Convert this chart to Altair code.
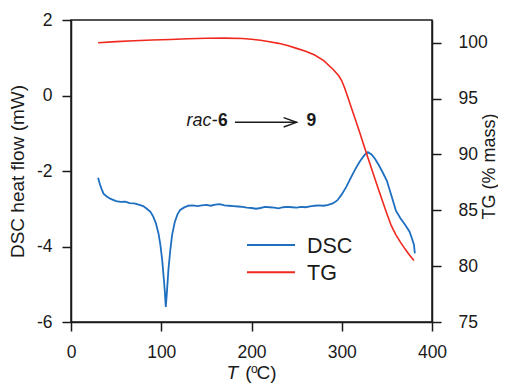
import altair as alt
import pandas as pd

# ---- data ----
T_DSC = [30, 32, 34, 36, 40, 44, 50, 55, 60, 65, 70, 75, 80, 84, 88, 91, 94, 97, 99,
         101, 103, 104, 105, 106, 107, 108, 110, 112, 115, 118, 121, 125, 130, 135,
         140, 145, 150, 155, 160, 165, 170, 175, 180, 185, 190, 195, 200, 205, 210,
         215, 220, 225, 230, 235, 240, 245, 250, 255, 260, 265, 270, 275, 280, 285,
         290, 295, 300, 305, 310, 315, 320, 325, 329, 333, 337, 341, 345, 350, 355,
         360, 365, 370, 375, 378, 380, 381]
DSC = [-2.18, -2.35, -2.48, -2.60, -2.68, -2.74, -2.80, -2.82, -2.81, -2.85, -2.86,
       -2.89, -2.93, -3.00, -3.08, -3.20, -3.38, -3.66, -3.95, -4.35, -4.90, -5.20,
       -5.60, -5.30, -4.95, -4.60, -4.10, -3.70, -3.35, -3.15, -3.03, -2.97, -2.92,
       -2.91, -2.93, -2.91, -2.90, -2.92, -2.89, -2.88, -2.91, -2.92, -2.93, -2.94,
       -2.95, -2.97, -2.98, -3.00, -2.98, -2.95, -2.96, -2.97, -2.99, -2.96, -2.95,
       -2.96, -2.97, -2.95, -2.96, -2.94, -2.92, -2.91, -2.92, -2.90, -2.86, -2.78,
       -2.62, -2.42, -2.18, -1.95, -1.75, -1.58, -1.50, -1.56, -1.68, -1.84, -2.02,
       -2.26, -2.65, -3.05, -3.25, -3.42, -3.60, -3.80, -3.95, -4.18]

T_TG = [30, 50, 70, 90, 110, 130, 150, 170, 190, 200, 210, 220, 230, 240, 250, 260,
        270, 280, 290, 295, 297, 300, 303, 306, 310, 315, 320, 325, 330, 335, 340,
        345, 350, 355, 360, 365, 370, 375, 380]
TG = [100.00, 100.10, 100.18, 100.25, 100.30, 100.36, 100.40, 100.42, 100.38, 100.32,
      100.22, 100.10, 99.95, 99.75, 99.50, 99.25, 98.90, 98.40, 97.65, 97.20, 97.00,
      96.60, 96.00, 95.30, 94.35, 93.15, 91.95, 90.70, 89.45, 88.25, 87.05, 85.85,
      84.70, 83.60, 82.80, 82.15, 81.55, 81.00, 80.50]

SERIES = ["DSC", "TG"]
COLORS = ["#1f6fc1", "#f0281e"]
X_TICKS = [0, 100, 200, 300, 400]
DSC_TICKS = [-6, -4, -2, 0, 2]
TG_TICKS = [75, 80, 85, 90, 95, 100]
X_DOMAIN = [0, 400]
DSC_DOMAIN = [-6, 2]
TG_DOMAIN = [75, 102.04]

# annotation "rac-6 --> 9" in data coordinates
ANN_Y = -0.81
ARROW_Y = -0.71
ARROW_T = [181.6, 250.0]
LABEL_6_T = 162.8
LABEL_9_T = 261.0

FONT = "Liberation Sans"
INK = "#1a1a1a"
W, H = 361, 302

dsc_df = pd.DataFrame({"T": T_DSC, "value": DSC, "series": "DSC"})
tg_df = pd.DataFrame({"T": T_TG, "value": TG, "series": "TG"})
arrow_df = pd.DataFrame({"T": [ARROW_T[0]], "T2": [ARROW_T[1]], "v": [ARROW_Y]})
rac_df = pd.DataFrame({"T": [LABEL_6_T], "v": [ANN_Y], "t": ["rac-"]})
six_df = pd.DataFrame({"T": [LABEL_6_T], "v": [ANN_Y], "t": ["6"]})
nine_df = pd.DataFrame({"T": [LABEL_9_T], "v": [ANN_Y], "t": ["9"]})
one_df = pd.DataFrame({"k": [0]})
leg_dsc_df = pd.DataFrame({"series": ["DSC"]})
leg_tg_df = pd.DataFrame({"series": ["TG"]})

xs = alt.Scale(domain=X_DOMAIN, nice=False, zero=False)
ys_dsc = alt.Scale(domain=DSC_DOMAIN, nice=False, zero=False)
ys_tg = alt.Scale(domain=TG_DOMAIN, nice=False, zero=False)
cscale = alt.Scale(domain=SERIES, range=COLORS)
LABEL_EXPR = "'' + datum.value"

x_enc = alt.X("T:Q", scale=xs,
              axis=alt.Axis(values=X_TICKS, title=None, labelPadding=12,
                            labelFlush=False, labelExpr=LABEL_EXPR))
color_enc = alt.Color("series:N", scale=cscale, legend=None)

dsc_line = alt.Chart(dsc_df).mark_line(strokeWidth=1.8).encode(
    x=x_enc,
    y=alt.Y("value:Q", scale=ys_dsc,
            axis=alt.Axis(values=DSC_TICKS, orient="left", title="DSC heat flow (mW)",
                          labelPadding=10, labelExpr=LABEL_EXPR,
                          titleX=-48, titleY=151, titleAngle=270,
                          titleAlign="center", titleBaseline="alphabetic")),
    color=color_enc,
)

xa = alt.X("T:Q", scale=xs)
ya = alt.Y("v:Q", scale=ys_dsc)

arrow_line = alt.Chart(arrow_df).mark_rule(color=INK, strokeWidth=1.4).encode(
    x=xa, x2="T2:Q", y=ya)
arrow_head = alt.Chart(arrow_df).mark_point(
    shape="M-1,-0.36L0,0L-1,0.36", filled=False, color=INK, strokeWidth=1.4,
    size=676, opacity=1).encode(x=alt.X("T2:Q", scale=xs), y=ya)
rac_text = alt.Chart(rac_df).mark_text(
    align="right", baseline="alphabetic", font=FONT, fontSize=18, fontStyle="italic",
    color=INK, dx=-0.5).encode(x=xa, y=ya, text="t:N")
six_text = alt.Chart(six_df).mark_text(
    align="left", baseline="alphabetic", font=FONT, fontSize=17.5, fontWeight="bold",
    color=INK).encode(x=xa, y=ya, text="t:N")
nine_text = alt.Chart(nine_df).mark_text(
    align="left", baseline="alphabetic", font=FONT, fontSize=17.5, fontWeight="bold",
    color=INK).encode(x=xa, y=ya, text="t:N")

# x axis title "T (°C)"
TITLE_Y = 359
t_it = alt.Chart(one_df).mark_text(
    align="left", baseline="alphabetic", font=FONT, fontSize=19, fontStyle="italic",
    color=INK, dx=-25).encode(x=alt.value(W / 2), y=alt.value(TITLE_Y), text=alt.value("T"))
t_par = alt.Chart(one_df).mark_text(
    align="left", baseline="alphabetic", font=FONT, fontSize=19, color=INK,
    dx=-6.3).encode(x=alt.value(W / 2), y=alt.value(TITLE_Y), text=alt.value("("))
t_deg = alt.Chart(one_df).mark_text(
    align="left", baseline="alphabetic", font=FONT, fontSize=12, color=INK,
    dx=-0.6).encode(x=alt.value(W / 2), y=alt.value(TITLE_Y - 6.5), text=alt.value("o"))
t_c = alt.Chart(one_df).mark_text(
    align="left", baseline="alphabetic", font=FONT, fontSize=19, color=INK,
    dx=5).encode(x=alt.value(W / 2), y=alt.value(TITLE_Y), text=alt.value("C)"))

# legend (line swatches + labels), colours from the shared colour scale
LEG_X1, LEG_X2, LEG_TX = 176, 224, 236
leg_dsc_line = alt.Chart(leg_dsc_df).mark_rule(strokeWidth=2).encode(
    x=alt.value(LEG_X1), x2=alt.value(LEG_X2), y=alt.value(225), color=color_enc)
leg_tg_line = alt.Chart(leg_tg_df).mark_rule(strokeWidth=2).encode(
    x=alt.value(LEG_X1), x2=alt.value(LEG_X2), y=alt.value(252.3), color=color_enc)
leg_dsc_text = alt.Chart(leg_dsc_df).mark_text(
    align="left", baseline="alphabetic", font=FONT, fontSize=21.5, color=INK).encode(
    x=alt.value(LEG_TX), y=alt.value(232.7), text="series:N")
leg_tg_text = alt.Chart(leg_tg_df).mark_text(
    align="left", baseline="alphabetic", font=FONT, fontSize=21.5, color=INK).encode(
    x=alt.value(LEG_TX), y=alt.value(260), text="series:N")

left = alt.layer(dsc_line, arrow_line, arrow_head, rac_text, six_text, nine_text,
                 t_it, t_par, t_deg, t_c,
                 leg_dsc_line, leg_tg_line, leg_dsc_text, leg_tg_text)

tg_line = alt.Chart(tg_df).mark_line(strokeWidth=1.6).encode(
    x=x_enc,
    y=alt.Y("value:Q", scale=ys_tg,
            axis=alt.Axis(values=TG_TICKS, orient="right", title="TG (% mass)",
                          labelPadding=17, labelExpr=LABEL_EXPR,
                          titleX=62, titleY=146, titleAngle=270,
                          titleAlign="center", titleBaseline="alphabetic",
                          titleFontSize=18)),
    color=color_enc,
)

chart = alt.layer(left, tg_line).resolve_scale(y="independent").properties(
    width=W, height=H,
    autosize=alt.AutoSizeParams(type="none"),
    padding={"left": 63, "top": 12, "right": 66, "bottom": 61},
).configure_view(
    stroke=INK, strokeWidth=1.5
).configure_axis(
    domainColor=INK, domainWidth=1.5, tickColor=INK, tickWidth=1.5, tickSize=9,
    labelFont=FONT, labelFontSize=17.5, labelColor=INK,
    titleFont=FONT, titleFontSize=19, titleFontWeight="normal", titleColor=INK,
    grid=False,
)

chart.save("out.html", embed_options={"renderer": "svg", "actions": False})
